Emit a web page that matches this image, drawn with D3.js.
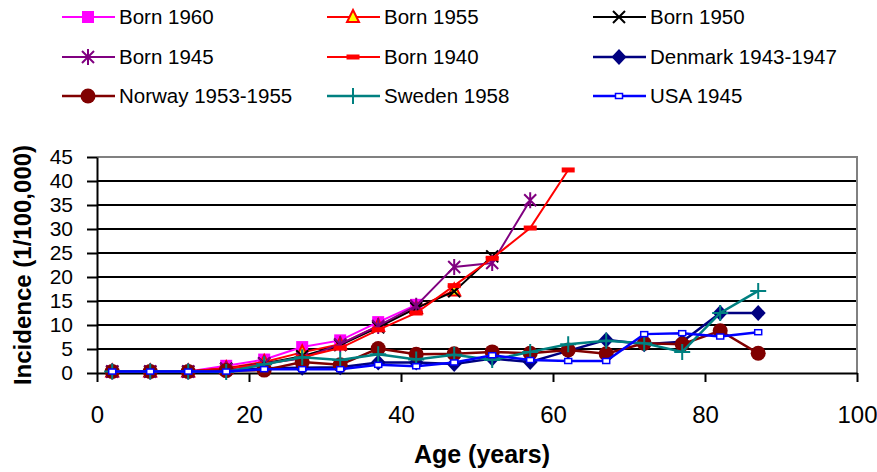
<!DOCTYPE html>
<html>
<head>
<meta charset="utf-8">
<script src="https://cdn.jsdelivr.net/npm/d3@7"></script>
<style>
  body { margin: 0; background: #fff; }
  text { font-family: "Liberation Sans", Arial, sans-serif; }
</style>
</head>
<body>
<div id="chart"></div>
<script>
// Age group midpoints (years)
const ages = [2, 7, 12, 17, 22, 27, 32, 37, 42, 47, 52, 57, 62, 67, 72, 77, 82, 87];

// Incidence per 100,000
const born1960 = [0.3, 0.3, 0.3, 1.5, 2.8, 5.4, 6.8, 10.6, 14.2];
const born1955 = [0.3, 0.3, 0.3, 1.0, 2.3, 4.3, 6.0, 9.8, 13.5, 17.2];
const born1950 = [0.3, 0.3, 0.3, 0.9, 2.0, 3.5, 5.8, 9.5, 13.5, 17.0, 24.3];
const born1945 = [0.3, 0.3, 0.3, 0.8, 2.0, 3.0, 6.0, 9.8, 14.0, 22.1, 22.9, 36.0];
const born1940 = [0.3, 0.3, 0.3, 1.0, 1.8, 3.3, 5.2, 9.0, 12.5, 18.2, 23.9, 30.2, 42.3];
const denmark = [0.3, 0.3, 0.3, 0.4, 1.0, 1.1, 1.2, 2.2, 2.2, 1.9, 3.0, 2.3, 4.6, 6.9, 6.0, 6.5, 12.5, 12.5];
const norway = [0.3, 0.3, 0.3, 0.5, 0.6, 2.3, 1.7, 5.1, 3.9, 4.0, 4.4, 4.1, 4.8, 4.0, 6.2, 6.0, 8.8, 4.1];
const sweden = [0.3, 0.3, 0.3, 0.2, 1.8, 3.3, 2.7, 3.9, 2.8, 3.8, 2.7, 4.4, 6.0, 6.7, 6.2, 4.4, 12.5, 17.1];
const usa = [0.3, 0.3, 0.3, 0.3, 0.8, 0.8, 0.8, 1.7, 1.4, 2.2, 3.7, 2.7, 2.5, 2.5, 8.1, 8.3, 7.6, 8.5];

const seriesNames = ["Born 1960", "Born 1955", "Born 1950", "Born 1945", "Born 1940",
  "Denmark 1943-1947", "Norway 1953-1955", "Sweden 1958", "USA 1945"];
const seriesValues = [born1960, born1955, born1950, born1945, born1940, denmark, norway, sweden, usa];

const yTicks = [0, 5, 10, 15, 20, 25, 30, 35, 40, 45];
const xTicks = [0, 20, 40, 60, 80, 100];

// styles per series (same order as seriesNames)
const styles = [
  { color: "#ff00ff", marker: "square" },
  { color: "#ff0000", marker: "triangle" },
  { color: "#000000", marker: "cross" },
  { color: "#800080", marker: "star" },
  { color: "#ff0000", marker: "dash" },
  { color: "#000080", marker: "diamond" },
  { color: "#800000", marker: "circle" },
  { color: "#008080", marker: "plus" },
  { color: "#0000ff", marker: "smallsquare" }
];

const width = 877, height = 472;
const plot = { left: 97, right: 857, top: 157, bottom: 373 };

const svg = d3.select("#chart")
  .append("svg")
  .attr("width", width)
  .attr("height", height);

svg.append("rect").attr("width", width).attr("height", height).attr("fill", "#fff");

const x = d3.scaleLinear().domain([0, 100]).range([plot.left, plot.right]);
const y = d3.scaleLinear().domain([0, 45]).range([plot.bottom, plot.top]);

// horizontal gridlines
svg.append("g")
  .selectAll("line")
  .data(yTicks.filter(t => t > 0 && t < 45))
  .enter()
  .append("line")
  .attr("x1", plot.left)
  .attr("x2", plot.right)
  .attr("y1", d => y(d))
  .attr("y2", d => y(d))
  .attr("stroke", "#000")
  .attr("stroke-width", 2);

// grey plot border top / right
svg.append("path")
  .attr("d", `M${plot.left},${y(45)}H${plot.right}V${plot.bottom}`)
  .attr("fill", "none")
  .attr("stroke", "#808080")
  .attr("stroke-width", 2);

// axes
const yAxis = svg.append("g")
  .attr("transform", `translate(${plot.left},0)`)
  .call(d3.axisLeft(y).tickValues(yTicks).tickSize(10).tickSizeOuter(0).tickPadding(14));

const xAxis = svg.append("g")
  .attr("transform", `translate(0,${plot.bottom})`)
  .call(d3.axisBottom(x).tickValues(xTicks).tickSize(9).tickSizeOuter(0).tickPadding(24));

[yAxis, xAxis].forEach(a => {
  a.select(".domain").attr("stroke", "#000").attr("stroke-width", 2);
  a.selectAll(".tick line").attr("stroke", "#000").attr("stroke-width", 2);
  a.selectAll(".tick text")
    .attr("fill", "#000")
    .style("font-family", "'Liberation Sans', Arial, sans-serif");
});
// y labels sit 24px apart, so keep them small enough not to collide
yAxis.selectAll(".tick text").style("font-size", "21px");
xAxis.selectAll(".tick text").style("font-size", "24px");

// axis titles
svg.append("text")
  .attr("x", (plot.left + plot.right) / 2 + 5)
  .attr("y", 463)
  .attr("text-anchor", "middle")
  .style("font-size", "25px")
  .style("font-weight", "bold")
  .text("Age (years)");

svg.append("text")
  .attr("transform", `translate(31,${(plot.top + plot.bottom) / 2}) rotate(-90)`)
  .attr("text-anchor", "middle")
  .style("font-size", "24px")
  .style("font-weight", "bold")
  .text("Incidence (1/100,000)");

// marker drawing
function drawMarker(g, type, color) {
  if (type === "square") {
    g.append("rect").attr("x", -6).attr("y", -6).attr("width", 12).attr("height", 12)
      .attr("fill", color);
  } else if (type === "triangle") {
    g.append("path").attr("d", "M0,-7L6,5L-6,5Z")
      .attr("fill", "#ffff00").attr("stroke", color).attr("stroke-width", 2);
  } else if (type === "cross") {
    g.append("path").attr("d", "M-6,-6L6,6M-6,6L6,-6")
      .attr("stroke", color).attr("stroke-width", 2);
  } else if (type === "star") {
    g.append("path").attr("d", "M-6,-6L6,6M-6,6L6,-6M0,-8L0,8")
      .attr("stroke", color).attr("stroke-width", 2);
  } else if (type === "dash") {
    g.append("rect").attr("x", -6.5).attr("y", -2.5).attr("width", 13).attr("height", 5)
      .attr("fill", color);
  } else if (type === "diamond") {
    g.append("path").attr("d", "M0,-8L7.5,0L0,8L-7.5,0Z").attr("fill", color);
  } else if (type === "circle") {
    g.append("circle").attr("r", 7.5).attr("fill", color);
  } else if (type === "plus") {
    g.append("path").attr("d", "M-8,0L8,0M0,-8L0,8")
      .attr("stroke", color).attr("stroke-width", 2);
  } else if (type === "smallsquare") {
    g.append("rect").attr("x", -3.5).attr("y", -2.5).attr("width", 7).attr("height", 5)
      .attr("fill", "#fff").attr("stroke", color).attr("stroke-width", 1.5);
  }
}

const line = d3.line()
  .x((d, i) => x(ages[i]))
  .y(d => y(d));

// series: lines then markers, drawn in legend order
seriesValues.forEach((vals, s) => {
  const st = styles[s];
  const g = svg.append("g").attr("class", "series");
  g.append("path")
    .datum(vals)
    .attr("d", line)
    .attr("fill", "none")
    .attr("stroke", st.color)
    .attr("stroke-width", s >= 5 ? 2.5 : 2);
  vals.forEach((v, i) => {
    const m = g.append("g").attr("transform", `translate(${x(ages[i])},${y(v)})`);
    drawMarker(m, st.marker, st.color);
  });
});

// legend (3 columns x 3 rows)
const legendCols = [62, 327, 593];
const legendRows = [17, 57, 96];

seriesNames.forEach((name, i) => {
  const lx = legendCols[i % 3], ly = legendRows[Math.floor(i / 3)];
  const st = styles[i];
  const lg = svg.append("g").attr("transform", `translate(${lx},${ly})`);
  lg.append("line")
    .attr("x1", 0).attr("x2", 53)
    .attr("y1", 0).attr("y2", 0)
    .attr("stroke", st.color)
    .attr("stroke-width", i >= 5 ? 2.5 : 2);
  drawMarker(lg.append("g").attr("transform", "translate(26,0)"), st.marker, st.color);
  lg.append("text")
    .attr("x", 57)
    .attr("y", 0)
    .attr("dy", "0.36em")
    .style("font-size", "20.5px")
    .text(name);
});
</script>
</body>
</html>
